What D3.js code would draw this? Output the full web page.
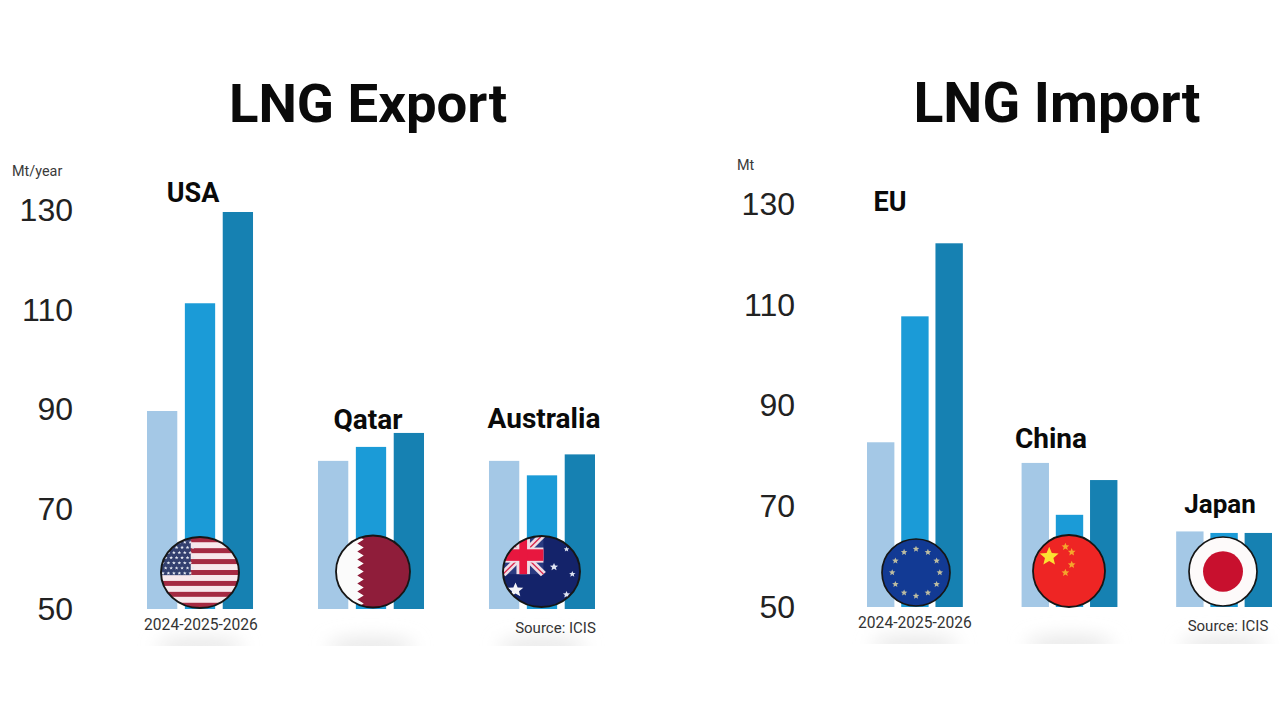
<!DOCTYPE html>
<html>
<head>
<meta charset="utf-8">
<script src="https://cdn.jsdelivr.net/npm/d3@7"></script>
<style>
  html, body { margin: 0; padding: 0; background: #fff; }
  svg { display: block; }
  text { font-family: Roboto, sans-serif; }
</style>
</head>
<body>
<svg id="chart" width="1280" height="720"></svg>
<script>
// data
const years = ["2024", "2025", "2026"];
const yearColors = ["#a4c8e6", "#1b9bd7", "#1681b2"];
const yTicks = [50, 70, 90, 110, 130];

const exportCountries = ["USA", "Qatar", "Australia"];
const exportUSA = [89.7, 111.3, 129.6];
const exportQatar = [79.7, 82.5, 85.3];
const exportAustralia = [79.7, 76.8, 81];

const importCountries = ["EU", "China", "Japan"];
const importEU = [82.7, 107.7, 122.2];
const importChina = [78.6, 68.3, 75.2];
const importJapan = [65, 64.7, 64.7];

let svg = d3.select("#chart");
let defs = svg.append("defs");

defs.append("filter").attr("id", "soft")
    .attr("x", "-50%").attr("y", "-150%").attr("width", "200%").attr("height", "400%")
    .append("feGaussianBlur").attr("stdDeviation", 9);

function star(g, cx, cy, r, fill) {
    let pts = d3.range(10).map(i => {
        let a = -Math.PI / 2 + i * Math.PI / 5;
        let rr = i % 2 ? r * 0.45 : r;
        return [cx + rr * Math.cos(a), cy + rr * Math.sin(a)];
    });
    g.append("polygon").attr("points", pts.join(" ")).attr("fill", fill);
}

// flags are drawn in a box of -40..40, then scaled into place
function flagUSA(g) {
    g.append("rect").attr("x", -40).attr("y", -40).attr("width", 80).attr("height", 80).attr("fill", "#f7e8ec");
    d3.range(-3, 4).forEach(k => {
        g.append("rect").attr("x", -40).attr("y", k * 12.3 - 2.8).attr("width", 80).attr("height", 5.6).attr("fill", "#a42a42");
    });
    g.append("rect").attr("x", -40).attr("y", -40).attr("width", 30.5).attr("height", 43).attr("fill", "#33406f");
    d3.range(7).forEach(r => d3.range(6).forEach(c => {
        star(g, -38 + c * 5.6 + (r % 2 ? 2.8 : 0), -34 + r * 5.8, 2, "#e4e8f2");
    }));
}

function flagQatar(g) {
    g.append("rect").attr("x", -40).attr("y", -40).attr("width", 80).attr("height", 80).attr("fill", "#8f1d3a");
    let pts = [[-40, -40], [-17, -40]];
    d3.range(9).forEach(i => {
        let y0 = -40 + i * 80 / 9;
        pts.push([-10, y0 + 80 / 18], [-17, y0 + 80 / 9]);
    });
    pts.push([-40, 40]);
    g.append("polygon").attr("points", pts.join(" ")).attr("fill", "#fbfbfb");
}

function flagAustralia(g) {
    g.append("rect").attr("x", -40).attr("y", -40).attr("width", 80).attr("height", 80).attr("fill", "#14236a");
    let u = g.append("g");
    u.append("rect").attr("x", -40).attr("y", -40).attr("width", 42).attr("height", 43).attr("fill", "#2a3a80");
    [[-40, -42, 2, 3], [-40, 3, 2, -42]].forEach(d => {
        u.append("line").attr("x1", d[0]).attr("y1", d[1]).attr("x2", d[2]).attr("y2", d[3])
            .attr("stroke", "#f0dde6").attr("stroke-width", 7);
        u.append("line").attr("x1", d[0]).attr("y1", d[1]).attr("x2", d[2]).attr("y2", d[3])
            .attr("stroke", "#d9264b").attr("stroke-width", 1.5);
    });
    u.append("rect").attr("x", -40).attr("y", -27).attr("width", 42).attr("height", 17).attr("fill", "#f0dde6");
    u.append("rect").attr("x", -26).attr("y", -40).attr("width", 14).attr("height", 43).attr("fill", "#f0dde6");
    u.append("rect").attr("x", -40).attr("y", -25).attr("width", 42).attr("height", 13).attr("fill", "#e8173f");
    u.append("rect").attr("x", -23).attr("y", -40).attr("width", 8).attr("height", 43).attr("fill", "#e8173f");
    star(g, -27, 21, 8.5, "#f3f3f8");
    [[26, -25, 3], [13, -5, 4.5], [32, 3, 3.5], [26, 26, 4]].forEach(d => star(g, d[0], d[1], d[2], "#dfe4f2"));
}

function flagEU(g) {
    g.append("rect").attr("x", -40).attr("y", -40).attr("width", 80).attr("height", 80).attr("fill", "#123a94");
    d3.range(12).forEach(i => {
        let a = i * Math.PI / 6;
        star(g, 28 * Math.sin(a), -28 * Math.cos(a), 4, "#bdbca0");
    });
}

function flagChina(g) {
    g.append("rect").attr("x", -40).attr("y", -40).attr("width", 80).attr("height", 80).attr("fill", "#ee2524");
    star(g, -22, -16, 11, "#fbe232");
    [[-4, -27], [3, -21], [3, -7], [-4, 2]].forEach(d => star(g, d[0], d[1], 4.5, "#f4a62c"));
}

function flagJapan(g) {
    g.append("rect").attr("x", -40).attr("y", -40).attr("width", 80).attr("height", 80).attr("fill", "#fdfafa");
    g.append("circle").attr("r", 23.5).attr("fill", "#c8102e");
}

defs.append("clipPath").attr("id", "flagClip").append("circle").attr("r", 40);

function drawPanel(p) {
    let y = d3.scaleLinear().domain([50, 130]).range([p.y50, p.y130]);
    let x = d3.scaleBand().domain(p.countries).range(p.xRange).paddingInner(0.38);
    let inner = d3.scaleBand().domain(years).range([0, x.bandwidth()]).paddingInner(0.2);
    let color = d3.scaleOrdinal().domain(years).range(yearColors);
    let root = svg.append("g");

    // grey smudges under the bars, cut off flat at the bottom like the picture
    defs.append("clipPath").attr("id", "smudge" + p.unit.length)
        .append("rect").attr("x", p.xRange[0] - 80).attr("y", p.y50 + 5).attr("width", 560).attr("height", 32);
    let smudges = root.append("g").attr("clip-path", "url(#smudge" + p.unit.length + ")");
    p.countries.forEach(c => {
        smudges.append("ellipse")
            .attr("cx", x(c) + x.bandwidth() / 2).attr("cy", p.y50 + 38)
            .attr("rx", 44).attr("ry", 9)
            .attr("fill", "#e6e6e6").attr("filter", "url(#soft)");
    });

    root.append("text").attr("x", p.titleX).attr("y", p.titleY).attr("text-anchor", "middle")
        .attr("font-size", p.titleSize).attr("font-weight", 700).attr("fill", "#0a0a0a").text(p.title);

    root.append("text").attr("x", p.unitX).attr("y", p.unitY)
        .attr("font-size", 14.4).attr("fill", "#3a3a3a").text(p.unit);

    let axis = root.append("g")
        .attr("transform", "translate(" + p.axisX + ",0)")
        .call(d3.axisLeft(y).tickValues(yTicks).tickSize(0).tickPadding(0));
    axis.select(".domain").remove();
    axis.selectAll("text")
        .style("font-family", "'Liberation Sans', sans-serif")
        .style("font-size", "32px")
        .attr("fill", "#222");

    p.countries.forEach((c, ci) => {
        let g = root.append("g").attr("transform", "translate(" + x(c) + ",0)");
        g.selectAll("rect").data(p.values[ci]).enter().append("rect")
            .attr("x", (d, i) => inner(years[i]))
            .attr("y", d => y(d))
            .attr("width", inner.bandwidth())
            .attr("height", d => y(50) - y(d))
            .attr("fill", (d, i) => color(years[i]));

        root.append("text")
            .attr("x", p.labels[ci][0]).attr("y", p.labels[ci][1])
            .attr("text-anchor", "middle")
            .attr("font-size", p.labels[ci][2]).attr("font-weight", 700).attr("fill", "#0a0a0a")
            .text(c);

        let f = p.flags[ci];
        let fg = root.append("g").attr("transform", "translate(" + f[0] + "," + f[1] + ") scale(" + f[2] / 40 + "," + f[3] / 40 + ")");
        let clipped = fg.append("g").attr("clip-path", "url(#flagClip)");
        f[4](clipped);
        fg.append("circle").attr("r", 40).attr("fill", "none").attr("stroke", "#161616").attr("stroke-width", 2);
    });

    root.append("text").attr("x", p.yearsX).attr("y", p.captionY).attr("text-anchor", "middle")
        .attr("font-size", 15.6).attr("fill", "#333").text(years.join("-"));
    root.append("text").attr("x", p.sourceX).attr("y", p.captionY + 3).attr("text-anchor", "middle")
        .attr("font-size", 15).attr("fill", "#333").text("Source: ICIS");
}

drawPanel({
    title: "LNG Export", titleX: 368, titleY: 122, titleSize: 54.5,
    unit: "Mt/year", unitX: 12, unitY: 176,
    countries: exportCountries,
    values: [exportUSA, exportQatar, exportAustralia],
    y50: 609, y130: 210, axisX: 73, xRange: [147, 595],
    labels: [[193, 202, 27], [368, 429, 28], [544, 428, 28]],
    flags: [[200, 572.5, 39, 35.5, flagUSA], [373, 571.5, 37, 36, flagQatar], [541.5, 571.5, 38.5, 35.5, flagAustralia]],
    yearsX: 201, sourceX: 555.5, captionY: 630
});

drawPanel({
    title: "LNG Import", titleX: 1057, titleY: 122, titleSize: 55.3,
    unit: "Mt", unitX: 737, unitY: 170,
    countries: importCountries,
    values: [importEU, importChina, importJapan],
    y50: 607, y130: 204, axisX: 795, xRange: [867, 1272],
    labels: [[890, 211, 27], [1051, 448, 28], [1220, 513, 26]],
    flags: [[916, 572.5, 34, 33.5, flagEU], [1069, 571, 36, 36, flagChina], [1223, 571.5, 34, 34.5, flagJapan]],
    yearsX: 915, sourceX: 1228, captionY: 628
});
</script>
</body>
</html>
